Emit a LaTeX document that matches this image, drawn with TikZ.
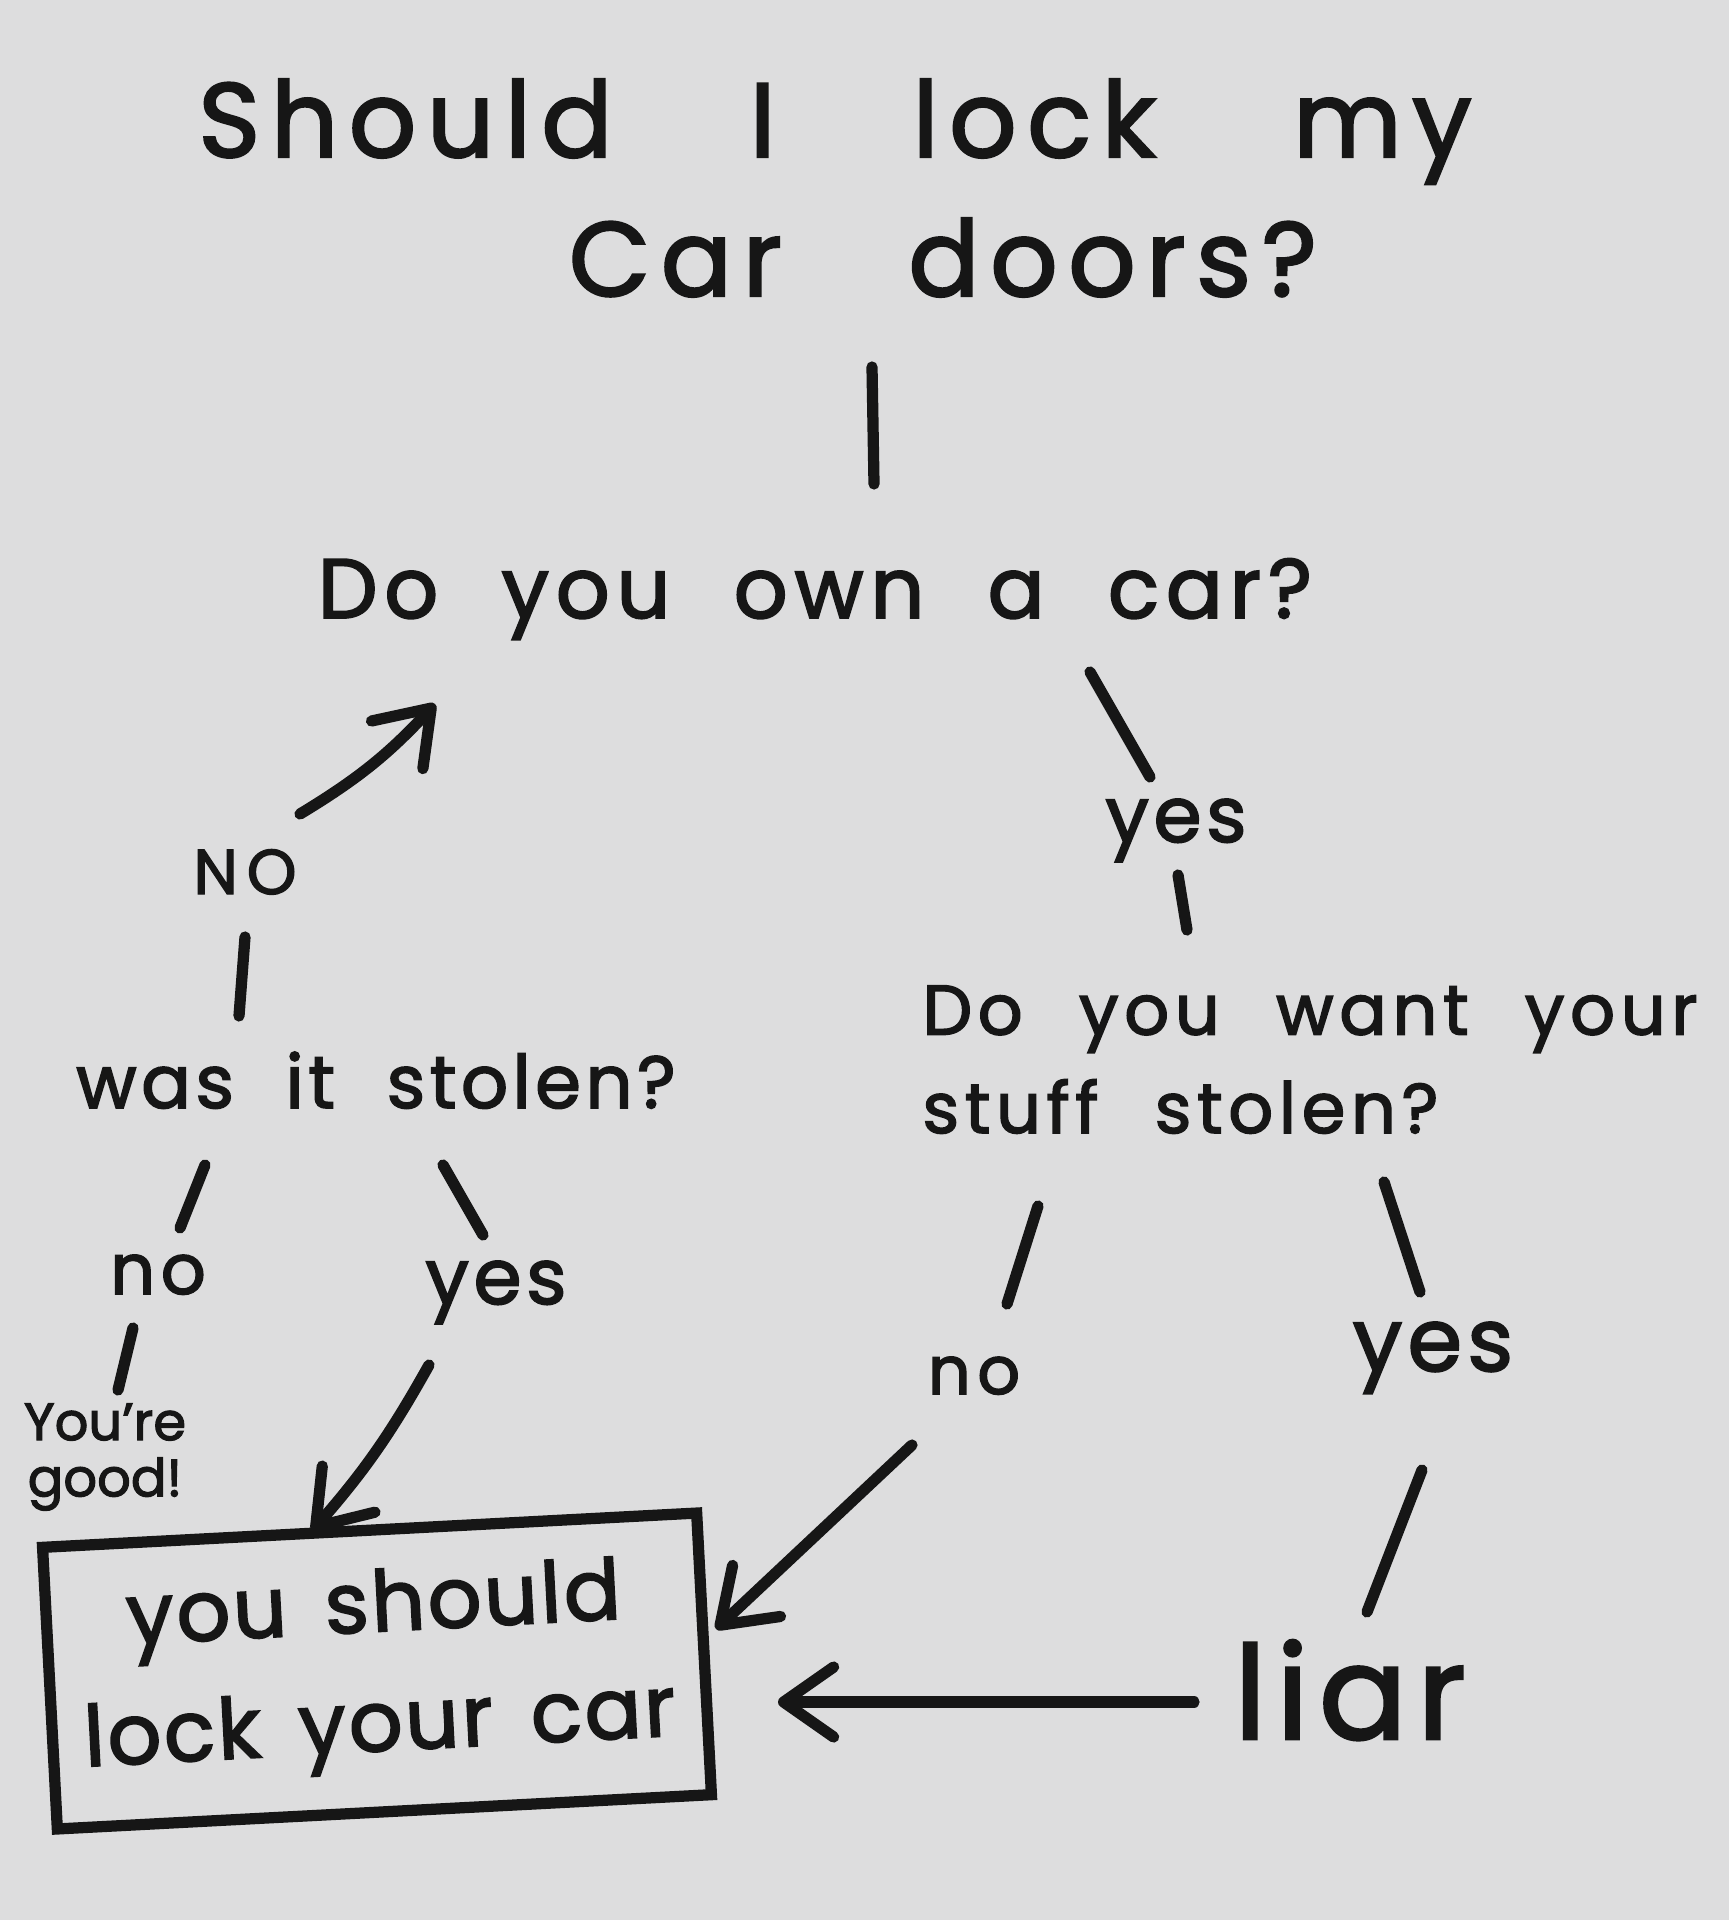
\documentclass[tikz,border=0pt]{standalone}
\usepackage{fontspec}
\setmainfont{Poppins}
\usetikzlibrary{arrows.meta}
\definecolor{paper}{RGB}{221,221,222}
\definecolor{ink}{RGB}{22,22,22}
\tikzset{
  pen/.style={draw=ink, line width=3.2pt, line cap=round},
  arr/.style={pen, -{Straight Barb[length=5mm, width=7mm, round]}},
  hand/.style={text=ink, inner sep=0pt, anchor=base},
}
% handwriting: font size, leading, word gap, letter gap
\newcommand{\hw}[4]{\fontsize{#1}{#2}\selectfont\addfontfeature{LetterSpace=#4,FakeBold=2.2}\spaceskip=#3em\relax}

\begin{document}
\begin{tikzpicture}
    \fill[paper] (0,0) rectangle (17.29,-19.20);
    \useasboundingbox (0,0) rectangle (17.29,-19.20);

    % Questions and answers
    \node[hand, font=\hw{30}{30}{1.3}{10}] (title1) at (8.35,-1.57) {Should I lock my};
    \node[hand, font=\hw{30}{30}{1.2}{10}] (title2) at (9.43,-2.96) {Car doors?};
    \node[hand, font=\hw{24}{24}{0.75}{8}] (own) at (8.15,-6.18) {Do you own a car?};
    \node[hand, font=\hw{18}{18}{0.5}{14}] (nobig) at (2.45,-8.94) {NO};
    \node[hand, font=\hw{21}{21}{0.7}{6}] (stolen) at (3.76,-11.08) {was it stolen?};
    \node[hand, font=\hw{20}{20}{0.5}{8}] (no1) at (1.58,-12.94) {no};
    \node[hand, font=\hw{22}{22}{0.5}{6}] (yes1) at (4.96,-13.04) {yes};
    \node[text=ink, inner sep=0pt, align=center, font=\hw{15}{16}{0.3}{0}] (good) at (1.05,-14.57) {You're\\good!};
    \node[hand, font=\hw{22}{22}{0.5}{6}] (yes2) at (11.76,-8.42) {yes};
    \node[hand, align=left, font=\hw{20}{28}{0.8}{8}] (want) at (13.10,-11.33) {Do you want your\\stuff stolen?};
    \node[hand, font=\hw{19}{19}{0.5}{10}] (no2) at (9.74,-13.94) {no};
    \node[hand, font=\hw{25}{25}{0.5}{6}] (yes3) at (14.33,-13.71) {yes};
    \node[hand, font=\hw{37}{37}{0.5}{8}] (liar) at (13.50,-17.39) {liar};
    \node[draw=ink, line width=3.2pt, rotate=3, minimum width=6.55cm, minimum height=2.82cm,
          align=center, text=ink, font=\hw{24}{34}{0.45}{3}] (box) at (3.77,-16.71)
          {you should\\lock your car};

    % Stroke ends
    \coordinate (stemA) at (8.72,-3.67);   \coordinate (stemB) at (8.74,-4.84);
    \coordinate (noA) at (3.00,-8.14);     \coordinate (noB) at (4.35,-7.04);
    \coordinate (noC) at (2.45,-9.37);     \coordinate (noD) at (2.39,-10.16);
    \coordinate (slA) at (2.05,-11.65);    \coordinate (slB) at (1.80,-12.28);
    \coordinate (srA) at (4.43,-11.65);    \coordinate (srB) at (4.83,-12.35);
    \coordinate (gdA) at (1.33,-13.28);    \coordinate (gdB) at (1.18,-13.90);
    \coordinate (y1A) at (4.29,-13.65);    \coordinate (y1B) at (3.12,-15.31);
    \coordinate (ownA) at (10.90,-6.72);   \coordinate (ownB) at (11.50,-7.77);
    \coordinate (y2A) at (11.78,-8.75);    \coordinate (y2B) at (11.87,-9.30);
    \coordinate (wlA) at (10.38,-12.06);   \coordinate (wlB) at (10.07,-13.04);
    \coordinate (wrA) at (13.84,-11.82);   \coordinate (wrB) at (14.20,-12.92);
    \coordinate (n2A) at (9.12,-14.45);    \coordinate (n2B) at (7.16,-16.29);
    \coordinate (y3A) at (14.22,-14.70);   \coordinate (y3B) at (13.67,-16.12);
    \coordinate (liA) at (11.94,-17.02);   \coordinate (liB) at (7.78,-17.02);

    % Strokes
    \foreach \a/\b in {stemA/stemB, noC/noD, slA/slB, srA/srB, gdA/gdB, ownA/ownB, y2A/y2B, wlA/wlB, wrA/wrB, y3A/y3B} {
        \draw[pen] (\a) -- (\b);
    }
    \draw[arr] (noA) to[bend right=8] (noB);
    \draw[arr] (y1A) to[bend left=6] (y1B);
    \draw[arr] (n2A) -- (n2B);
    \draw[arr] (liA) -- (liB);
\end{tikzpicture}
\end{document}
